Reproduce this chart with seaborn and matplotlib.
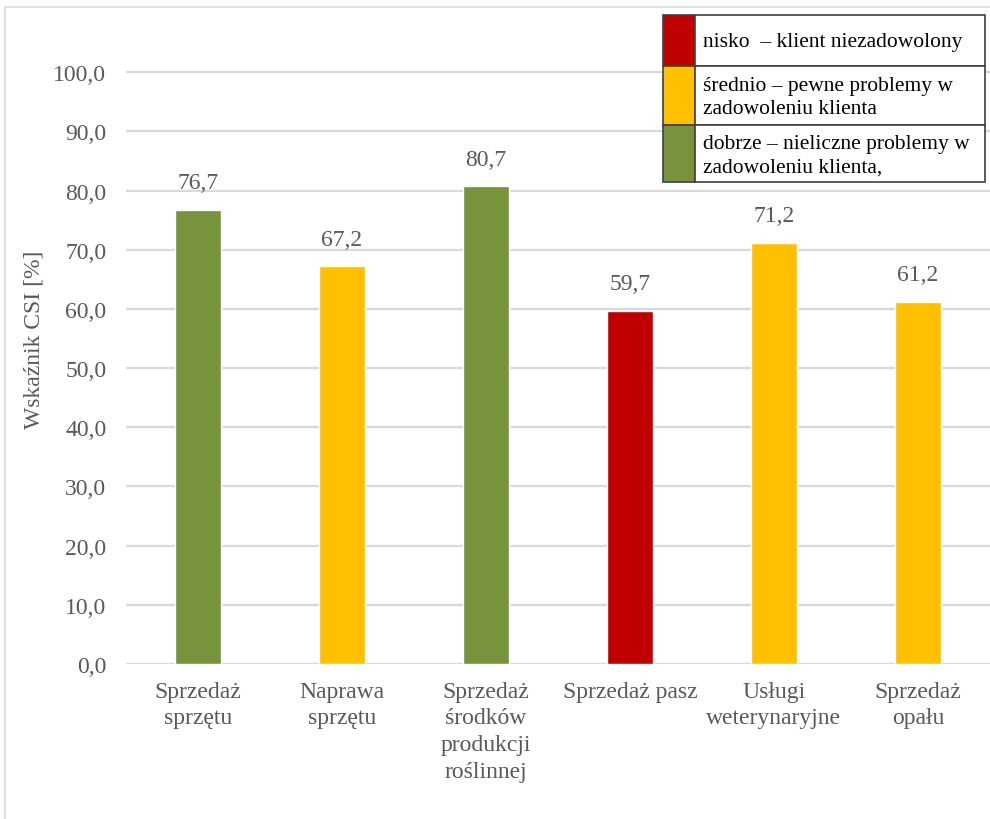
import matplotlib
matplotlib.use("Agg")
import matplotlib.pyplot as plt
import matplotlib.patches as mpatches
import seaborn as sns
import pandas as pd

categories = [
    "Sprzedaż\nsprzętu",
    "Naprawa\nsprzętu",
    "Sprzedaż\nśrodków\nprodukcji\nroślinnej",
    "Sprzedaż pasz",
    "Usługi\nweterynaryjne",
    "Sprzedaż\nopału",
]
csi_values = [76.7, 67.2, 80.7, 59.7, 71.2, 61.2]
levels = ["dobrze", "średnio", "dobrze", "nisko", "średnio", "średnio"]

level_colors = {"nisko": "#C00000", "średnio": "#FFC000", "dobrze": "#77933C"}
legend_entries = [
    ("nisko", "nisko  – klient niezadowolony"),
    ("średnio", "średnio – pewne problemy w\nzadowoleniu klienta"),
    ("dobrze", "dobrze – nieliczne problemy w\nzadowoleniu klienta,"),
]
y_ticks = [0, 10, 20, 30, 40, 50, 60, 70, 80, 90, 100]

sns.set_theme(style="white")
plt.rcParams["font.family"] = ["Liberation Serif", "DejaVu Serif"]

df = pd.DataFrame({"kategoria": categories, "csi": csi_values, "poziom": levels})

fig = plt.figure(figsize=(9.9, 8.2), dpi=100)
ax = fig.add_axes([0.127, 0.189, 0.873, 0.794])

sns.barplot(
    data=df, x="kategoria", y="csi", hue="kategoria",
    palette=[level_colors[l] for l in levels],
    width=0.32, legend=False, ax=ax, saturation=1,
)

grey = "#595959"
fs = 17
ax.set_ylim(0, 110)
ax.set_xlim(-0.5, len(categories) - 0.5)
ax.set_yticks(y_ticks)
ax.set_yticklabels([f"{v:.1f}".replace(".", ",") for v in y_ticks])
for t in y_ticks:
    ax.axhline(t, color="#D9D9D9", lw=1.6, zorder=0)
ax.tick_params(axis="y", colors=grey, labelsize=fs, length=0, pad=14)
ax.tick_params(axis="x", colors=grey, labelsize=fs, length=0, pad=12)
for lbl in ax.get_xticklabels():
    lbl.set_linespacing(1.36)
ax.set_xlabel("")
ax.set_ylabel("Wskaźnik CSI [%]", color=grey, fontsize=fs, labelpad=6)
for s in ax.spines.values():
    s.set_visible(False)

for cont in ax.containers:
    ax.bar_label(cont, labels=[f"{v:.1f}".replace(".", ",") for v in cont.datavalues],
                 padding=12, color=grey, fontsize=fs)

# legend table in the upper right corner
x0, x1, xc = 663 / 990, 985 / 990, 695 / 990
rows = [(16, 67), (67, 126), (126, 183)]
for (key, text), (ya, yb) in zip(legend_entries, rows):
    fy0 = 1 - yb / 820
    fy1 = 1 - ya / 820
    fig.patches.append(mpatches.Rectangle((x0, fy0), xc - x0, fy1 - fy0,
                                          transform=fig.transFigure,
                                          facecolor=level_colors[key],
                                          edgecolor="#404040", lw=1.2, zorder=5))
    fig.patches.append(mpatches.Rectangle((xc, fy0), x1 - xc, fy1 - fy0,
                                          transform=fig.transFigure,
                                          facecolor="white",
                                          edgecolor="#404040", lw=1.2, zorder=5))
    fig.text(xc + 8 / 990, (fy0 + fy1) / 2 - 1.5 / 820, text, fontsize=15.5,
             color="black", va="center", ha="left", linespacing=1.35, zorder=6)

# outer chart frame
fig.patches.append(mpatches.Rectangle((5 / 990, -0.01), 1.0, 1 - 8 / 820 + 0.01,
                                      transform=fig.transFigure, fill=False,
                                      edgecolor="#D9D9D9", lw=1.2, zorder=1))

fig.savefig("out.png", dpi=100)
